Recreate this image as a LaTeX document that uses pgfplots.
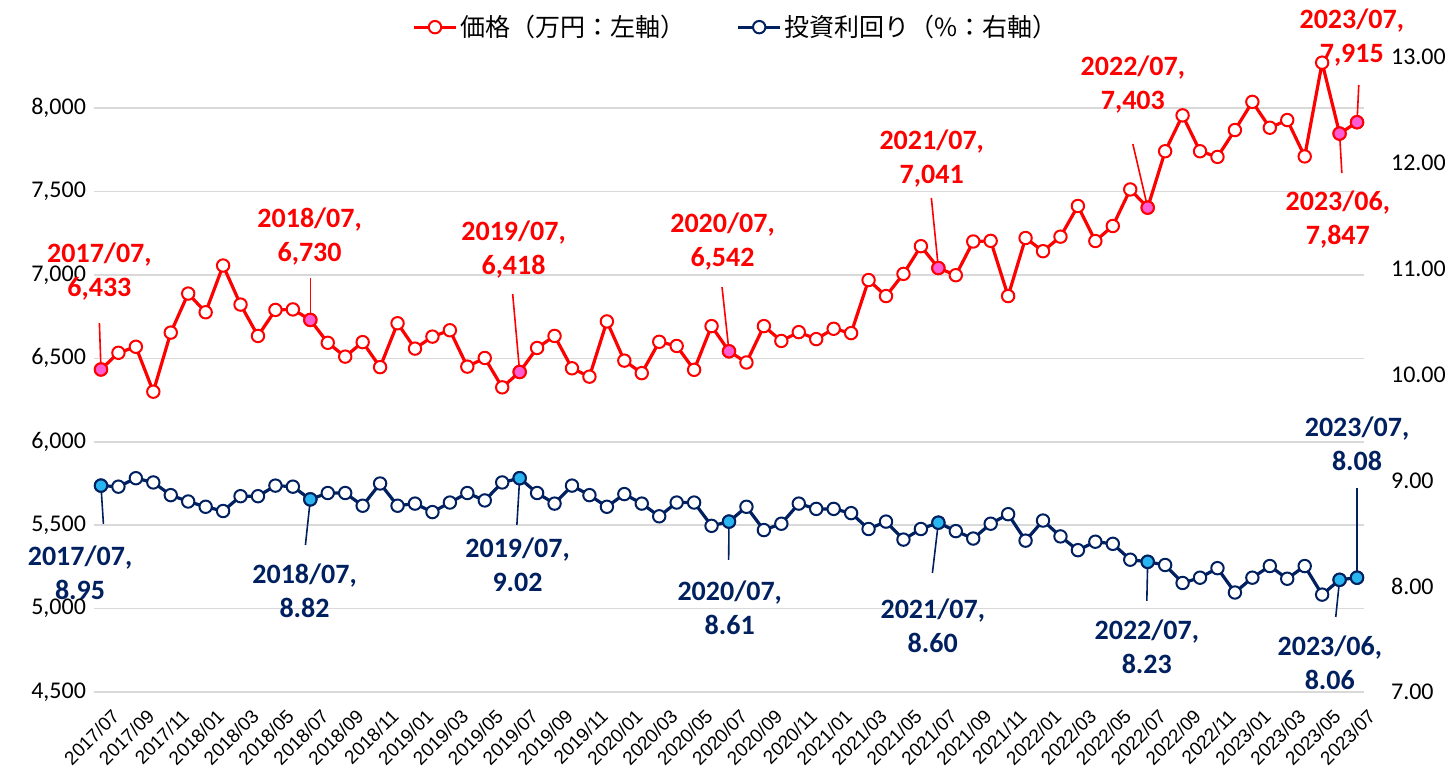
\documentclass[border=0pt]{standalone}
\usepackage{fontspec}
\setmainfont{Carlito}
\newfontfamily\cjk{Noto Sans CJK JP}
\newfontfamily\arialf{Liberation Sans}
\usepackage{pgfplots}
\usepackage{pgfplotstable}
\pgfplotsset{compat=1.18}
\definecolor{pr}{HTML}{FF0000}
\definecolor{nv}{HTML}{002060}
\definecolor{pk}{HTML}{FF5CD6}
\definecolor{lb}{HTML}{29B6F0}
\definecolor{gr}{HTML}{D9D9D9}

\pgfplotstableread{
i v
0 6433
1 6533
2 6569
3 6300
4 6654
5 6888
6 6776
7 7056
8 6822
9 6634
10 6790
11 6793
12 6730
13 6593
14 6510
15 6597
16 6447
17 6710
18 6558
19 6630
20 6668
21 6450
22 6502
23 6326
24 6418
25 6562
26 6634
27 6440
28 6390
29 6721
30 6486
31 6411
32 6599
33 6574
34 6431
35 6693
36 6542
37 6475
38 6693
39 6604
40 6657
41 6615
42 6677
43 6651
44 6969
45 6873
46 7006
47 7172
48 7041
49 6998
50 7200
51 7204
52 6873
53 7221
54 7142
55 7229
56 7413
57 7203
58 7293
59 7512
60 7403
61 7741
62 7956
63 7741
64 7707
65 7868
66 8037
67 7882
68 7928
69 7710
70 8272
71 7847
72 7915
}\price

\pgfplotstableread{
i v
0 6433
12 6730
24 6418
36 6542
48 7041
60 7403
71 7847
72 7915
}\pricehl

\pgfplotstableread{
i v
0 8.95
1 8.94
2 9.02
3 8.98
4 8.86
5 8.80
6 8.75
7 8.71
8 8.85
9 8.85
10 8.95
11 8.94
12 8.82
13 8.88
14 8.88
15 8.76
16 8.97
17 8.76
18 8.78
19 8.70
20 8.79
21 8.88
22 8.81
23 8.98
24 9.02
25 8.88
26 8.78
27 8.95
28 8.86
29 8.75
30 8.87
31 8.78
32 8.66
33 8.79
34 8.79
35 8.57
36 8.61
37 8.75
38 8.53
39 8.59
40 8.78
41 8.73
42 8.73
43 8.69
44 8.54
45 8.61
46 8.44
47 8.54
48 8.60
49 8.52
50 8.45
51 8.59
52 8.68
53 8.43
54 8.62
55 8.47
56 8.34
57 8.42
58 8.40
59 8.25
60 8.23
61 8.20
62 8.03
63 8.08
64 8.17
65 7.94
66 8.08
67 8.19
68 8.07
69 8.19
70 7.92
71 8.06
72 8.08
}\yield

\pgfplotstableread{
i v
0 8.95
12 8.82
24 9.02
36 8.61
48 8.60
60 8.23
71 8.06
72 8.08
}\yieldhl

\tikzset{
  lbl/.style={font=\bfseries\fontsize{14}{17}\selectfont, align=center, inner sep=0pt},
}

\begin{document}
\begin{tikzpicture}
\useasboundingbox (-47pt,-41pt) rectangle (675.5pt,346pt);
\begin{axis}[
  at={(0,0)}, anchor=south west,
  scale only axis, width=635pt, height=317.5pt,
  xmin=-0.4, xmax=72.4, ymin=4500, ymax=8306,
  clip=false,
  axis line style={draw=none},
  major tick length=0pt,
  ytick={4500,5000,...,8000},
  yticklabels={{4,500\hspace{13pt}},{5,000},{5,500},{6,000},{6,500},{7,000},{7,500},{8,000}},
  yticklabel style={font=\fontsize{12}{12}\selectfont, xshift=-0.5pt},
  ymajorgrids, grid style={color=gr, line width=0.8pt},
  xtick={0,2,...,72},
  xticklabels={2017/07,2017/09,2017/11,2018/01,2018/03,2018/05,2018/07,2018/09,2018/11,2019/01,2019/03,2019/05,2019/07,2019/09,2019/11,2020/01,2020/03,2020/05,2020/07,2020/09,2020/11,2021/01,2021/03,2021/05,2021/07,2021/09,2021/11,2022/01,2022/03,2022/05,2022/07,2022/09,2022/11,2023/01,2023/03,2023/05,2023/07},
  xticklabel style={font=\arialf\fontsize{9.5}{9.5}\selectfont, rotate=45, anchor=north east, inner sep=0pt, yshift=-9pt, xshift=-2pt},
]
% leader lines
\draw[pr, line width=0.8pt] (axis cs:-0.09,6711) -- (axis cs:0,6433);
\draw[pr, line width=0.8pt] (axis cs:12.0,6981) -- (axis cs:12,6730);
\draw[pr, line width=0.8pt] (axis cs:23.6,6885) -- (axis cs:24,6418);
\draw[pr, line width=0.8pt] (axis cs:35.6,6927) -- (axis cs:36,6542);
\draw[pr, line width=0.8pt] (axis cs:47.6,7461) -- (axis cs:48,7041);
\draw[pr, line width=0.8pt] (axis cs:59.15,7784) -- (axis cs:60,7403);
\draw[pr, line width=0.8pt] (axis cs:72.1,8138) -- (axis cs:72,7915);
\draw[pr, line width=0.8pt] (axis cs:71.13,7610) -- (axis cs:71,7847);
\addplot[pr, line width=1.6pt, mark=*, mark size=3.1pt, mark options={fill=white, draw=pr, line width=1pt}] table[x=i, y=v] {\price};
\addplot[only marks, mark=*, mark size=3.1pt, mark options={fill=pk, draw=pr, line width=1pt}] table[x=i, y=v] {\pricehl};
% labels
\node[lbl, text=pr] at (axis cs:-0.09,7017) {2017/07,\\6,433};
\node[lbl, text=pr] at (axis cs:11.96,7230) {2018/07,\\6,730};
\node[lbl, text=pr] at (axis cs:23.65,7149) {2019/07,\\6,418};
\node[lbl, text=pr] at (axis cs:35.63,7197) {2020/07,\\6,542};
\node[lbl, text=pr] at (axis cs:47.62,7700) {2021/07,\\7,041};
\node[lbl, text=pr] at (axis cs:59.15,8138) {2022/07,\\7,403};
\node[lbl, text=pr] at (axis cs:71.7,8422) {2023/07,\\7,915};
\node[lbl, text=pr] at (axis cs:70.9,7329) {2023/06,\\7,847};
\end{axis}

\begin{axis}[
  at={(0,0)}, anchor=south west,
  scale only axis, width=635pt, height=317.5pt,
  xmin=-0.4, xmax=72.4, ymin=7, ymax=13,
  clip=false,
  axis x line=none,
  axis y line*=right,
  axis line style={draw=none},
  major tick length=0pt,
  ytick={7,8,...,13},
  yticklabel={\pgfmathprintnumber[fixed, fixed zerofill, precision=2, assume math mode=true]{\tick}},
  yticklabel style={font=\fontsize{12}{12}\selectfont, anchor=west, xshift=10pt},
  legend style={at={(0.506,1.047)}, anchor=center, draw=none, fill=none,
    legend columns=2, font=\cjk\fontsize{12.5}{15}\selectfont,
    /tikz/every even column/.append style={column sep=24pt},
    nodes={inner sep=1.5pt}},
  legend image code/.code={\draw[mark repeat=2, mark phase=2, #1] plot coordinates {(0pt,0pt) (10.5pt,0pt) (21pt,0pt)};},
]
\addlegendimage{pr, line width=1.6pt, mark=*, mark size=3.1pt, mark options={fill=white, draw=pr, line width=1pt}}
\addlegendentry{価格（万円：左軸）}
\draw[nv, line width=0.8pt] (axis cs:0,8.95) -- (axis cs:0.14,8.588);
\draw[nv, line width=0.8pt] (axis cs:12,8.82) -- (axis cs:11.72,8.389);
\draw[nv, line width=0.8pt] (axis cs:24,9.02) -- (axis cs:23.84,8.578);
\draw[nv, line width=0.8pt] (axis cs:36,8.61) -- (axis cs:35.98,8.248);
\draw[nv, line width=0.8pt] (axis cs:48,8.60) -- (axis cs:47.66,8.125);
\draw[nv, line width=0.8pt] (axis cs:60,8.23) -- (axis cs:59.95,7.860);
\draw[nv, line width=0.8pt] (axis cs:71,8.06) -- (axis cs:70.78,7.709);
\draw[nv, line width=0.8pt] (axis cs:72,8.08) -- (axis cs:72.0,8.928);
\addplot[nv, line width=1.6pt, mark=*, mark size=3.1pt, mark options={fill=white, draw=nv, line width=1pt}] table[x=i, y=v] {\yield};
\addlegendentry{投資利回り（\%：右軸）}
\addplot[forget plot, only marks, mark=*, mark size=3.1pt, mark options={fill=lb, draw=nv, line width=1pt}] table[x=i, y=v] {\yieldhl};
\node[lbl, text=nv] at (axis cs:-1.2,8.125) {2017/07,\\8.95};
\node[lbl, text=nv] at (axis cs:11.67,7.959) {2018/07,\\8.82};
\node[lbl, text=nv] at (axis cs:23.88,8.200) {2019/07,\\9.02};
\node[lbl, text=nv] at (axis cs:36.04,7.799) {2020/07,\\8.61};
\node[lbl, text=nv] at (axis cs:47.68,7.624) {2021/07,\\8.60};
\node[lbl, text=nv] at (axis cs:59.95,7.425) {2022/07,\\8.23};
\node[lbl, text=nv] at (axis cs:70.44,7.274) {2023/06,\\8.06};
\node[lbl, text=nv] at (axis cs:72.0,9.349) {2023/07,\\8.08};
\end{axis}
\end{tikzpicture}
\end{document}
